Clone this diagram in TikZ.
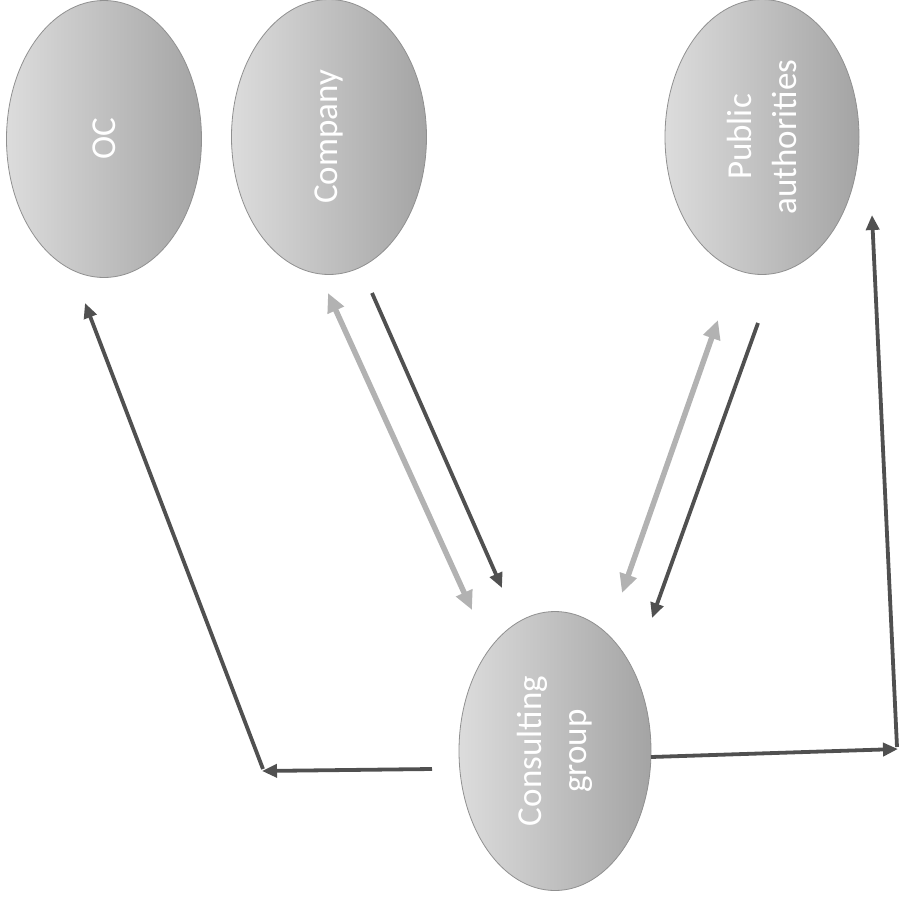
\documentclass[tikz,border=0pt]{standalone}
\usepackage{fontspec}
\setmainfont{Carlito}
\usetikzlibrary{shapes.geometric,arrows.meta}
\definecolor{darkln}{HTML}{505050}
\definecolor{lightln}{HTML}{B2B2B2}
\definecolor{elllight}{HTML}{DCDCDC}
\definecolor{elldark}{HTML}{A4A4A4}
\definecolor{ellborder}{HTML}{909090}
\tikzset{
  blob/.style={ellipse, draw=ellborder, line width=0.8pt, rotate=90,
    left color=elllight, right color=elldark,
    text=white, font=\fontsize{35}{45}\selectfont, align=center, inner sep=0pt},
  darkarrow/.style={draw=darkln, line width=3.8pt,
    -{Triangle[length=15pt,width=13pt]}},
  lightarrow/.style={draw=lightln, line width=5.5pt,
    {Triangle[length=19pt,width=17pt]}-{Triangle[length=19pt,width=17pt]}},
}
\begin{document}
\begin{tikzpicture}[x=1pt,y=-1pt]
\useasboundingbox (0,0) rectangle (899,906);
\node[blob, minimum width=277pt, minimum height=195pt] (oc) at (104,139) {OC};
\node[blob, minimum width=275pt, minimum height=195pt] (company) at (329,137) {Company};
\node[blob, minimum width=275pt, minimum height=194pt] (pa) at (762,137) {Public\\authorities};
\node[blob, minimum width=279pt, minimum height=192pt] (cg) at (555,751) {Consulting\\group};

\coordinate (c1a) at (328,293);
\coordinate (c1b) at (472,610);
\coordinate (c2a) at (372,293);
\coordinate (c2b) at (502,588);
\coordinate (p1a) at (718,320);
\coordinate (p1b) at (622,593);
\coordinate (p2a) at (758,323);
\coordinate (p2b) at (652,618);
\coordinate (ocA) at (432,769);
\coordinate (ocB) at (262,771);
\coordinate (ocC) at (263,769);
\coordinate (ocD) at (85,303);
\coordinate (rA) at (651,757);
\coordinate (rB) at (898,749);
\coordinate (rC) at (897,747);
\coordinate (rD) at (872,215);

\draw[lightarrow] (c1a) -- (c1b);
\draw[darkarrow] (c2a) -- (c2b);
\draw[lightarrow] (p1a) -- (p1b);
\draw[darkarrow] (p2a) -- (p2b);
\draw[darkarrow] (ocA) -- (ocB);
\draw[darkarrow] (ocC) -- (ocD);
\draw[darkarrow] (rA) -- (rB);
\draw[darkarrow] (rC) -- (rD);
\end{tikzpicture}
\end{document}
